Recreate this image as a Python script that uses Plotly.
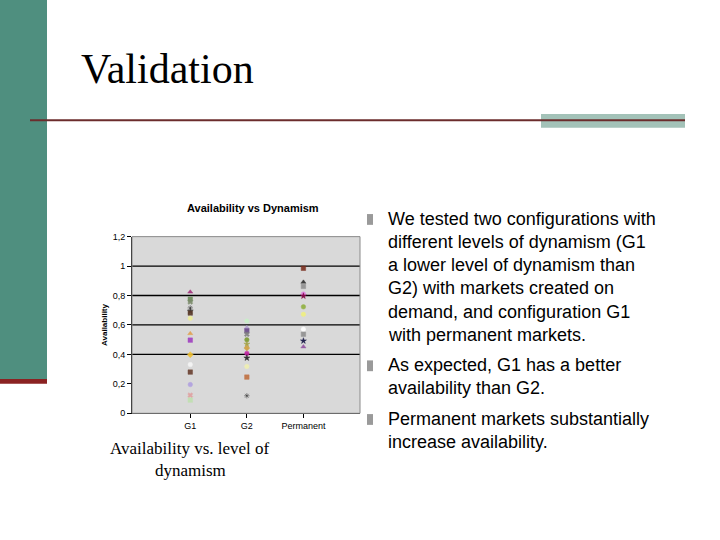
import plotly.graph_objects as go

# ---- data ----
categories = ["G1", "G2", "Permanent"]
g1_values = [0.824, 0.775, 0.757, 0.716, 0.694, 0.681, 0.645, 0.542, 0.497, 0.398, 0.331, 0.280, 0.195, 0.123, 0.090]
g2_values = [0.627, 0.582, 0.560, 0.537, 0.499, 0.470, 0.443, 0.407, 0.376, 0.318, 0.246, 0.119]
perm_values = [0.985, 0.891, 0.862, 0.810, 0.797, 0.723, 0.672, 0.571, 0.537, 0.492, 0.452]
y_tick_values = [0, 0.2, 0.4, 0.6, 0.8, 1.0, 1.2]
y_tick_labels = ["0", "0,2", "0,4", "0,6", "0,8", "1", "1,2"]
grid_values = [0.4, 0.6, 0.8, 1.0]

bullets = [
    ["We tested two configurations with", "different levels of dynamism (G1",
     "a lower level of dynamism than", "G2) with markets created on",
     "demand, and configuration G1", "with permanent markets."],
    ["As expected, G1 has a better", "availability than G2."],
    ["Permanent markets substantially", "increase availability."],
]

# ---- styles ----
g1_colors = ["#a0307a", "#6b8e5a", "#7a8a6a", "#222222", "#333333", "#5a3a2a", "#eeee9a",
             "#e0a050", "#a040c0", "#f0c030", "#f6f6f6", "#6a4030", "#b0a0e0", "#e0a0a0", "#c0e0b0"]
g1_symbols = ["triangle-up", "square", "x", "asterisk-open", "star", "square", "circle",
              "triangle-up", "square", "diamond", "circle", "square", "circle", "x", "square"]
g2_colors = ["#c8f0c8", "#b0a0d0", "#6a4a8a", "#808080", "#7a9a30", "#a0a040", "#d0a040",
             "#c020a0", "#202020", "#f0f0b0", "#c07040", "#202020"]
g2_symbols = ["circle", "triangle-up", "square", "x", "circle", "star", "diamond",
              "circle", "star", "circle", "square", "asterisk-open"]
perm_colors = ["#7a3020", "#303030", "#909090", "#e080e0", "#800040", "#90b040", "#f0f080",
               "#ffffff", "#909090", "#101040", "#9050a0"]
perm_symbols = ["square", "triangle-up", "square", "circle", "star", "circle", "circle",
                "circle", "square", "star", "triangle-up"]

W, H = 720, 540
def px(x):
    return x / W
def py(y):
    return 1 - y / H

fig = go.Figure()
for cat, vals, cols, syms in [(categories[0], g1_values, g1_colors, g1_symbols),
                              (categories[1], g2_values, g2_colors, g2_symbols),
                              (categories[2], perm_values, perm_colors, perm_symbols)]:
    fig.add_trace(go.Scatter(
        x=[cat] * len(vals), y=vals, mode="markers",
        marker=dict(size=4.5, color=cols, symbol=syms, opacity=0.9,
                    line=dict(width=0.5, color=cols)),
        showlegend=False, hoverinfo="y"))

shapes = []
# slide decorations
shapes.append(dict(type="rect", xref="paper", yref="paper", x0=0, x1=px(47), y0=py(381), y1=1.01,
                   fillcolor="#4f8f7f", line=dict(width=0), layer="below"))
shapes.append(dict(type="rect", xref="paper", yref="paper", x0=0, x1=px(47), y0=py(386), y1=py(381),
                   fillcolor="#8b2222", line=dict(width=0), layer="below"))
shapes.append(dict(type="rect", xref="paper", yref="paper", x0=px(541), x1=px(685), y0=py(125), y1=py(111),
                   fillcolor="#a3c2b8", line=dict(width=0), layer="below"))
shapes.append(dict(type="line", xref="paper", yref="paper", x0=px(30), x1=px(685), y0=py(117.5), y1=py(117.5),
                   line=dict(color="#6b2c2c", width=2)))
# gridlines
for g in grid_values:
    shapes.append(dict(type="line", xref="x domain", yref="y", x0=0, x1=1, y0=g, y1=g,
                       line=dict(color="#000000", width=1.3), layer="below"))
# plot area border
shapes.append(dict(type="rect", xref="x domain", yref="y domain", x0=0, x1=1, y0=0, y1=1,
                   line=dict(color="#8a8a8a", width=1)))
# bullet squares
line_h = 23.6
y = 218
bullet_ys = []
text_items = []
for para in bullets:
    bullet_ys.append(y)
    for ln in para:
        text_items.append((ln, y))
        y += line_h
    y += 7.5
for by in bullet_ys:
    shapes.append(dict(type="rect", xref="paper", yref="paper", x0=px(367), x1=px(373),
                       y0=py(by + 6), y1=py(by - 5), fillcolor="#9a9a9a", line=dict(width=0)))

annotations = []
annotations.append(dict(text="Validation", x=px(79), y=py(65), xref="paper", yref="paper",
                        xanchor="left", yanchor="middle", showarrow=False,
                        font=dict(family="Liberation Serif", size=42, color="#000000")))
for ln, ly in text_items:
    annotations.append(dict(text=ln, x=px(386), y=py(ly), xref="paper", yref="paper",
                            xanchor="left", yanchor="middle", showarrow=False,
                            font=dict(family="Liberation Sans", size=18, color="#000000")))
annotations.append(dict(text="Availability vs. level of", x=px(190), y=py(452), xref="paper", yref="paper",
                        xanchor="center", yanchor="middle", showarrow=False,
                        font=dict(family="Liberation Serif", size=17, color="#000000")))
annotations.append(dict(text="dynamism", x=px(190), y=py(474), xref="paper", yref="paper",
                        xanchor="center", yanchor="middle", showarrow=False,
                        font=dict(family="Liberation Serif", size=17, color="#000000")))
annotations.append(dict(text="<b>Availability vs Dynamism</b>", x=px(253), y=py(207), xref="paper", yref="paper",
                        xanchor="center", yanchor="middle", showarrow=False,
                        font=dict(family="Liberation Sans", size=11, color="#000000")))
annotations.append(dict(text="<b>Availability</b>", x=px(105), y=py(326), xref="paper", yref="paper",
                        xanchor="center", yanchor="middle", showarrow=False, textangle=-90,
                        font=dict(family="Liberation Sans", size=8, color="#000000")))

fig.update_layout(
    width=W, height=H, autosize=False,
    margin=dict(l=0, r=0, t=0, b=0),
    paper_bgcolor="#ffffff", plot_bgcolor="#d9d9d9",
    shapes=shapes, annotations=annotations,
    xaxis=dict(domain=[px(132), px(360)], type="category", categoryorder="array",
               categoryarray=categories, range=[-1.03, 3.0], showgrid=False, zeroline=False,
               showline=True, linecolor="#000000", linewidth=1, ticks="outside", ticklen=4,
               tickcolor="#000000", tickfont=dict(family="Liberation Sans", size=9, color="#000000")),
    yaxis=dict(domain=[py(416), py(236)], range=[0, 1.2], tickvals=y_tick_values, ticktext=y_tick_labels,
               showgrid=False, zeroline=False, showline=True, linecolor="#000000", linewidth=1,
               ticks="outside", ticklen=4, tickcolor="#000000",
               tickfont=dict(family="Liberation Sans", size=9, color="#000000")),
)

fig.write_html("out.html", config={"displayModeBar": False},
               post_script="document.body.style.margin='0';")
